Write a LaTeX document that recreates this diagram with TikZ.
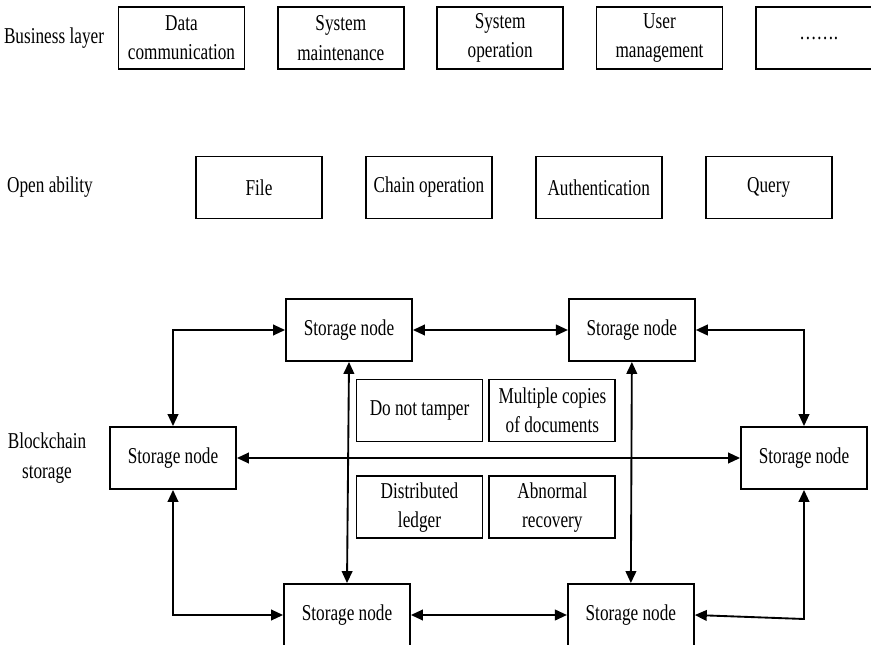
\documentclass[tikz,border=0pt]{standalone}
\usepackage{fontspec}
\setmainfont{Liberation Serif}[FakeStretch=0.76]
\usepackage{tikz}
\usetikzlibrary{positioning,arrows.meta}

\begin{document}
\begin{tikzpicture}[x=0.75pt,y=-0.75pt,>={Triangle[length=9pt,width=8pt]},line width=1.4pt,
  font=\fontsize{17}{22}\selectfont,
  block/.style={draw,minimum width=94.5pt,minimum height=46.5pt,inner sep=0pt,align=center},
  layer/.style={align=center,inner sep=0pt}]
  \useasboundingbox (0,0) rectangle (871,645);

  % business layer
  \node [layer] (bl) at (54,38) {Business layer};
  \node [block] (dc) at (181.5,38) {Data\\communication};
  \node [block] (sm) [right=23.6pt of dc] {System\\maintenance};
  \node [block] (so) [right=23.6pt of sm] {System\\operation};
  \node [block] (um) [right=23.6pt of so] {User\\management};
  \node [block] (etc) [right=23.6pt of um] {…….};

  % open ability
  \node [layer] (oa) at (50,187.5) {Open ability};
  \node [block] (fl) at (259,187.5) {File};
  \node [block] (co) [right=31.5pt of fl] {Chain operation};
  \node [block] (au) [right=31.5pt of co] {Authentication};
  \node [block] (qu) [right=31.5pt of au] {Query};

  % blockchain storage
  \node [layer] (bs) at (47,458) {Blockchain\\storage};
  \node [block] (T1) at (349,330) {Storage node};
  \node [block] (T2) [right=116.25pt of T1] {Storage node};
  \node [block] (L) at (173,458) {Storage node};
  \node [block] (R) at (804,458) {Storage node};
  \node [block] (B1) at (347,615) {Storage node};
  \node [block] (B2) [right=117pt of B1] {Storage node};

  \node [block] (tp) at (419.5,410.5) {Do not tamper};
  \node [block] (mc) [right=3.75pt of tp] {Multiple copies\\of documents};
  \node [block] (dl) [below=24.75pt of tp] {Distributed\\ledger};
  \node [block] (ar) [right=3.75pt of dl] {Abnormal\\recovery};

  \coordinate (kink) at (804,619);

  \path (T1) edge[<->] (T2);
  \draw [<->] (T2.east) -| (R.north);
  \draw [<->] (T1.west) -| (L.north);
  \draw [<->] (L) -- (R);
  \draw [<->] (T1.south) -- (B1.north);
  \draw [<->] (T2.south) -- (B2.north);
  \draw [<->] (L.south) |- (B1.west);
  \path (B1) edge[<->] (B2);
  \draw [<->] (B2.east) -- (kink) -- (R.south);
\end{tikzpicture}
\end{document}
